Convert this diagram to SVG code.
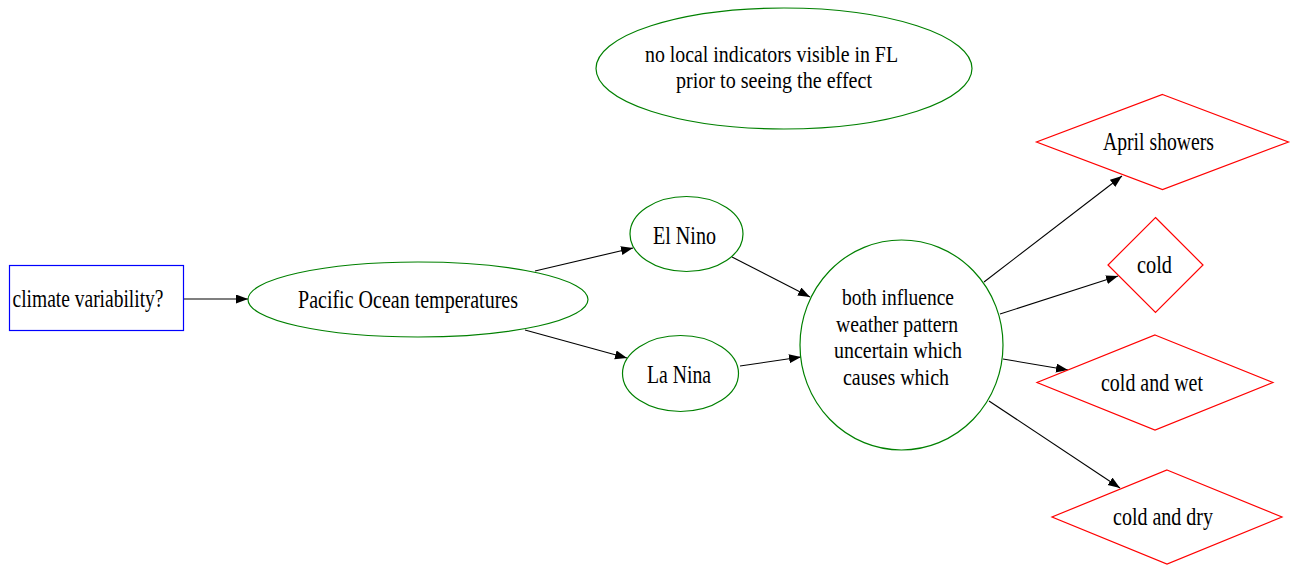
<svg xmlns="http://www.w3.org/2000/svg" width="1295" height="565" viewBox="0 0 1295 565">
<style>
text{font-family:"Liberation Serif","Times New Roman",serif;font-size:26px;fill:#000;text-anchor:middle}
text.m{font-size:24px}
.g{fill:#fff;stroke:#008000;stroke-width:1.2}
.r{fill:#fff;stroke:#ff0000;stroke-width:1.2}
.b{fill:#fff;stroke:#0000ff;stroke-width:1.2}
.e{stroke:#000;stroke-width:1.1;fill:none;marker-end:url(#ah)}
</style>
<defs>
<marker id="ah" markerUnits="userSpaceOnUse" markerWidth="14" markerHeight="10" refX="12" refY="4.5" orient="auto" viewBox="0 0 14 10">
<path d="M0,0 L12,4.5 L0,9 z" fill="#000"/>
</marker>
</defs>
<rect width="1295" height="565" fill="#fff"/>
<g id="connectors">
<line class="e" x1="183" y1="299" x2="248" y2="299"/>
<line class="e" x1="535" y1="271" x2="633" y2="248"/>
<line class="e" x1="525" y1="330" x2="627" y2="358"/>
<line class="e" x1="732" y1="257" x2="810" y2="297"/>
<line class="e" x1="740" y1="366" x2="801" y2="357"/>
<line class="e" x1="984" y1="282" x2="1122" y2="176"/>
<line class="e" x1="1000" y1="314" x2="1118" y2="276"/>
<line class="e" x1="1003" y1="359" x2="1068" y2="370"/>
<line class="e" x1="989" y1="401" x2="1120" y2="488"/>
</g>
<g id="climate">
<rect class="b" x="9.5" y="265.5" width="174" height="65"/>
<text x="88" y="307" textLength="151" lengthAdjust="spacingAndGlyphs">climate variability?</text>
</g>
<g id="pacific">
<ellipse class="g" cx="418" cy="299.5" rx="170" ry="37.5"/>
<text x="408" y="308" textLength="220" lengthAdjust="spacingAndGlyphs">Pacific Ocean temperatures</text>
</g>
<g id="nolocal">
<ellipse class="g" cx="784" cy="68.5" rx="188" ry="60.5"/>
<text class="m" x="771.5" y="62" textLength="253" lengthAdjust="spacingAndGlyphs">no local indicators visible in FL</text>
<text class="m" x="774" y="88" textLength="196" lengthAdjust="spacingAndGlyphs">prior to seeing the effect</text>
</g>
<g id="elnino">
<ellipse class="g" cx="686.5" cy="234" rx="56.5" ry="37.5"/>
<text x="684.5" y="244" textLength="63" lengthAdjust="spacingAndGlyphs">El Nino</text>
</g>
<g id="lanina">
<ellipse class="g" cx="680.5" cy="373.5" rx="58" ry="38"/>
<text x="679" y="383" textLength="64" lengthAdjust="spacingAndGlyphs">La Nina</text>
</g>
<g id="both">
<ellipse class="g" cx="901.5" cy="345" rx="101.5" ry="105"/>
<text class="m" x="898" y="305" textLength="112" lengthAdjust="spacingAndGlyphs">both influence</text>
<text class="m" x="897" y="332" textLength="122" lengthAdjust="spacingAndGlyphs">weather pattern</text>
<text class="m" x="898" y="358" textLength="128" lengthAdjust="spacingAndGlyphs">uncertain which</text>
<text class="m" x="896" y="385" textLength="106" lengthAdjust="spacingAndGlyphs">causes which</text>
</g>
<g id="april">
<polygon class="r" points="1162.5,94.5 1288.5,142 1162.5,189.5 1036.5,142"/>
<text x="1158.5" y="150" textLength="111" lengthAdjust="spacingAndGlyphs">April showers</text>
</g>
<g id="cold">
<polygon class="r" points="1155.5,217.5 1203,265 1155.5,312.5 1108,265"/>
<text x="1154.5" y="273" textLength="35" lengthAdjust="spacingAndGlyphs">cold</text>
</g>
<g id="coldwet">
<polygon class="r" points="1155,335 1273,382.5 1155,430 1037,382.5"/>
<text x="1152" y="391" textLength="102" lengthAdjust="spacingAndGlyphs">cold and wet</text>
</g>
<g id="colddry">
<polygon class="r" points="1167,470 1282,517 1167,564 1052,517"/>
<text x="1163" y="525" textLength="100" lengthAdjust="spacingAndGlyphs">cold and dry</text>
</g>
</svg>
